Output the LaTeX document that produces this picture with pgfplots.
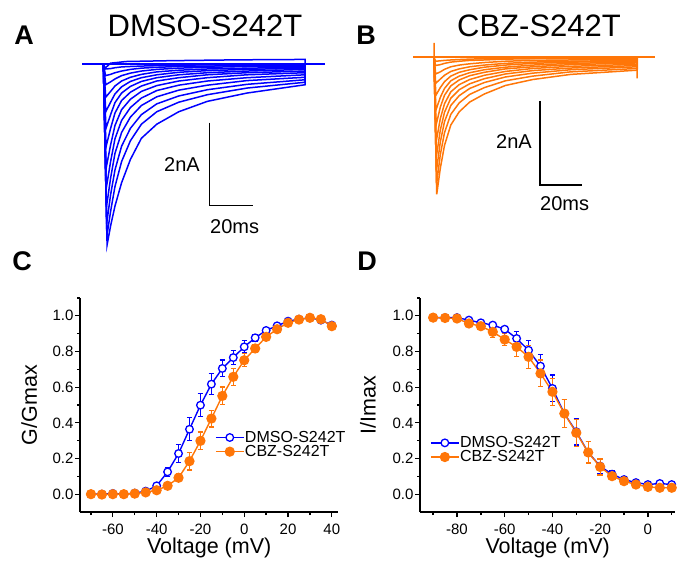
\documentclass[border=0pt]{standalone}
\usepackage{fontspec}
\setmainfont{Liberation Sans}
\usepackage{pgfplots}
\usepackage{pgfplotstable}
\pgfplotsset{compat=1.18}

\definecolor{dmso}{RGB}{0,0,255}
\definecolor{cbz}{RGB}{255,118,8}
\newcommand\fs[1]{\fontsize{#1}{#1}\selectfont}

% activation (G/Gmax): voltage, mean, sem
\pgfplotstableread{
v    m     e
-70  0.000 0.005
-65  0.000 0.005
-60  0.004 0.005
-55  0.000 0.005
-50  0.006 0.005
-45  0.017 0.006
-40  0.047 0.010
-35  0.125 0.025
-30  0.228 0.052
-25  0.364 0.065
-20  0.499 0.065
-15  0.617 0.060
-10  0.705 0.047
-5   0.766 0.040
0    0.826 0.035
5    0.877 0.020
10   0.918 0.015
15   0.944 0.012
20   0.970 0.010
25   0.981 0.008
30   0.989 0.008
35   0.976 0.010
40   0.948 0.012
}\actDMSO
\pgfplotstableread{
v    m      e
-70  0.000  0.004
-65  -0.002 0.004
-60  0.000  0.004
-55  0.000  0.004
-50  0.003  0.004
-45  0.010  0.005
-40  0.022  0.008
-35  0.047  0.010
-30  0.092  0.022
-25  0.185  0.050
-20  0.299  0.050
-15  0.424  0.047
-10  0.551  0.050
-5   0.658  0.047
0    0.751  0.037
5    0.817  0.022
10   0.882  0.020
15   0.925  0.015
20   0.961  0.010
25   0.979  0.008
30   0.989  0.008
35   0.981  0.010
40   0.942  0.012
}\actCBZ
% inactivation (I/Imax)
\pgfplotstableread{
v    m     e
-90  0.990 0.008
-85  0.990 0.008
-80  0.990 0.008
-75  0.976 0.010
-70  0.961 0.010
-65  0.948 0.012
-60  0.925 0.015
-55  0.873 0.040
-50  0.807 0.056
-45  0.718 0.065
-40  0.593 0.075
-35  0.452 0.080
-30  0.350 0.075
-25  0.234 0.060
-20  0.157 0.040
-15  0.112 0.020
-10  0.082 0.015
-5   0.065 0.010
0    0.054 0.010
5    0.060 0.010
10   0.054 0.010
}\inaDMSO
\pgfplotstableread{
v    m     e
-90  0.990 0.008
-85  0.988 0.008
-80  0.985 0.008
-75  0.957 0.010
-70  0.942 0.015
-65  0.910 0.030
-60  0.867 0.035
-55  0.826 0.055
-50  0.770 0.065
-45  0.677 0.075
-40  0.574 0.075
-35  0.452 0.080
-30  0.344 0.075
-25  0.234 0.060
-20  0.153 0.045
-15  0.101 0.020
-10  0.073 0.015
-5   0.054 0.010
0    0.041 0.010
5    0.036 0.010
10   0.036 0.010
}\inaCBZ

\pgfplotsset{
  ivplot/.style={
    scale only axis, height=214pt, ymin=-0.1, ymax=1.1,
    axis lines=left, axis line style={-, line width=1.4pt},
    tick align=outside, major tick length=5pt, minor tick length=3pt,
    tick style={line width=1.3pt, black},
    ytick={0,0.2,0.4,0.6,0.8,1.0}, minor ytick={0.1,0.3,0.5,0.7,0.9,1.1},
    ticklabel style={font=\fs{15}},
    xticklabel style={yshift=-3pt},
    yticklabel style={xshift=2pt, /pgf/number format/.cd, fixed, fixed zerofill, precision=1},
    /pgf/number format/assume math mode=true,
    label style={font=\fs{21.5}},
    xlabel style={at={(axis description cs:0.5,0)}, anchor=base, yshift=-41pt},
    legend style={draw=none, fill=none, anchor=north west, font=\fs{16},
      row sep=0.5pt, inner sep=0pt, nodes={inner sep=0.5pt}},
    legend cell align=left,
    legend image code/.code={\draw[mark repeat=2,mark phase=2,##1]
      plot coordinates {(0pt,0pt)(14pt,0pt)(28pt,0pt)};},
    clip=false,
  },
  dm/.style={dmso, line width=1.4pt, mark=*, mark size=3.8pt,
    mark options={fill=white, draw=dmso, line width=1.3pt},
    error bars/y dir=both, error bars/y explicit,
    error bars/error bar style={line width=1.3pt},
    error bars/error mark options={rotate=90, mark size=2.7pt, line width=1.3pt}},
  cb/.style={cbz, line width=1.4pt, mark=*, mark size=4.4pt,
    mark options={fill=cbz, draw=cbz},
    error bars/y dir=both, error bars/y explicit,
    error bars/error bar style={line width=1.3pt},
    error bars/error mark options={rotate=90, mark size=2.7pt, line width=1.3pt}},
  trA/.style={dmso, line width=1.5pt},
  trB/.style={cbz, line width=1.5pt},
}

\begin{document}
\begin{tikzpicture}[x=1pt, y=1pt]
\path[use as bounding box] (0,0) rectangle (682,563);

% ---------- A: DMSO traces ----------
\begin{axis}[at={(82pt,308.1pt)}, anchor=south west, scale only axis,
  width=244.2pt, height=207.5pt, xmin=0, xmax=111, ymin=-4.6, ymax=0.4,
  hide axis, clip=false]
\addplot[trA] coordinates {(0,0)(110.5,0)};
\addplot[trA] coordinates {(9.7,0)(11.4,-4.36)(13,-3.9)(15,-3.42)(18,-2.86)(22,-2.30)(27,-1.79)(34,-1.45)(44,-1.15)(57,-0.90)(75,-0.70)(101.4,-0.50)(101.4,0)};
\addplot[trA] coordinates {(9.7,0)(11.3,-4.15)(13,-3.55)(15,-2.95)(18,-2.35)(22,-1.85)(27,-1.45)(34,-1.15)(44,-0.92)(57,-0.74)(75,-0.58)(101.4,-0.44)(101.4,0)};
\addplot[trA] coordinates {(9.7,0)(11.2,-3.85)(13,-3.15)(15,-2.55)(18,-1.98)(22,-1.55)(27,-1.22)(34,-0.96)(44,-0.77)(57,-0.62)(75,-0.49)(101.4,-0.38)(101.4,0)};
\addplot[trA] coordinates {(9.7,0)(11.1,-3.45)(13,-2.75)(15,-2.15)(18,-1.65)(22,-1.28)(27,-1.00)(34,-0.79)(44,-0.63)(57,-0.51)(75,-0.40)(101.4,-0.32)(101.4,0)};
\addplot[trA] coordinates {(9.7,0)(11.0,-3.0)(13,-2.35)(15,-1.80)(18,-1.36)(22,-1.05)(27,-0.82)(34,-0.64)(44,-0.51)(57,-0.41)(75,-0.33)(101.4,-0.26)(101.4,0)};
\addplot[trA] coordinates {(9.7,0)(11.0,-2.5)(13,-1.95)(15,-1.48)(18,-1.10)(22,-0.85)(27,-0.66)(34,-0.52)(44,-0.41)(57,-0.33)(75,-0.26)(101.4,-0.21)(101.4,0)};
\addplot[trA] coordinates {(9.7,0)(10.9,-2.0)(13,-1.55)(15,-1.18)(18,-0.88)(22,-0.68)(27,-0.53)(34,-0.41)(44,-0.33)(57,-0.26)(75,-0.21)(101.4,-0.17)(101.4,0)};
\addplot[trA] coordinates {(9.7,0)(10.9,-1.55)(13,-1.22)(15,-0.93)(18,-0.70)(22,-0.54)(27,-0.42)(34,-0.33)(44,-0.26)(57,-0.21)(75,-0.17)(101.4,-0.13)(101.4,0)};
\addplot[trA] coordinates {(9.7,0)(10.8,-1.15)(13,-0.92)(15,-0.72)(18,-0.55)(22,-0.42)(27,-0.33)(34,-0.26)(44,-0.20)(57,-0.16)(75,-0.13)(101.4,-0.10)(101.4,0)};
\addplot[trA] coordinates {(9.7,0)(10.8,-0.80)(13,-0.66)(15,-0.53)(18,-0.41)(22,-0.32)(27,-0.25)(34,-0.19)(44,-0.15)(57,-0.12)(75,-0.10)(101.4,-0.08)(101.4,0)};
\addplot[trA] coordinates {(9.7,0)(10.8,-0.50)(13,-0.43)(15,-0.36)(18,-0.28)(22,-0.22)(27,-0.17)(34,-0.13)(44,-0.10)(57,-0.08)(75,-0.06)(101.4,-0.05)(101.4,0)};
\addplot[trA] coordinates {(9.7,0)(10.7,-0.28)(13,-0.25)(15,-0.21)(18,-0.17)(22,-0.13)(27,-0.10)(34,-0.08)(44,-0.06)(57,-0.05)(75,-0.04)(101.4,-0.03)(101.4,0)};
\addplot[trA] coordinates {(9.7,0)(10.7,-0.12)(13,-0.11)(15,-0.09)(18,-0.07)(22,-0.06)(27,-0.05)(34,-0.04)(44,-0.03)(57,-0.02)(75,-0.02)(101.4,-0.01)(101.4,0)};
\addplot[trA] coordinates {(9.7,0)(10.5,-0.10)(13,0.02)(20,0.06)(40,0.08)(70,0.10)(101.4,0.11)(101.4,0)};
% scale bar
\addplot[black, line width=1.2pt] coordinates {(57.9,-1.414)(57.9,-3.414)(77.9,-3.414)};
\end{axis}

% ---------- B: CBZ traces ----------
\begin{axis}[at={(413pt,357.25pt)}, anchor=south west, scale only axis,
  width=243.6pt, height=170pt, xmin=0, xmax=116, ymin=-3.5, ymax=0.5,
  hide axis, clip=false]
\addplot[trB] coordinates {(0,0)(115.2,0)};
\addplot[trB] coordinates {(10,0)(10,0.33)(10.1,0)};
\addplot[trB] coordinates {(106.7,0)(106.7,-0.5)(106.9,0)};
\addplot[trB] coordinates {(10,0)(11.3,-3.23)(13,-2.62)(15,-2.08)(18,-1.60)(22,-1.29)(27,-1.06)(34,-0.87)(44,-0.67)(57,-0.53)(75,-0.41)(106.7,-0.31)(106.7,0)};
\addplot[trB] coordinates {(10,0)(11.2,-3.00)(13,-2.30)(15,-1.78)(18,-1.35)(22,-1.08)(27,-0.88)(34,-0.72)(44,-0.56)(57,-0.45)(75,-0.35)(106.7,-0.27)(106.7,0)};
\addplot[trB] coordinates {(10,0)(11.1,-2.70)(13,-2.00)(15,-1.52)(18,-1.14)(22,-0.91)(27,-0.74)(34,-0.60)(44,-0.47)(57,-0.38)(75,-0.30)(106.7,-0.23)(106.7,0)};
\addplot[trB] coordinates {(10,0)(11.1,-2.35)(13,-1.72)(15,-1.30)(18,-0.97)(22,-0.77)(27,-0.63)(34,-0.51)(44,-0.40)(57,-0.32)(75,-0.26)(106.7,-0.20)(106.7,0)};
\addplot[trB] coordinates {(10,0)(11.0,-2.00)(13,-1.45)(15,-1.10)(18,-0.82)(22,-0.65)(27,-0.53)(34,-0.43)(44,-0.34)(57,-0.27)(75,-0.22)(106.7,-0.17)(106.7,0)};
\addplot[trB] coordinates {(10,0)(11.0,-1.60)(13,-1.18)(15,-0.90)(18,-0.68)(22,-0.54)(27,-0.44)(34,-0.36)(44,-0.28)(57,-0.23)(75,-0.18)(106.7,-0.14)(106.7,0)};
\addplot[trB] coordinates {(10,0)(10.9,-1.25)(13,-0.95)(15,-0.74)(18,-0.56)(22,-0.45)(27,-0.37)(34,-0.30)(44,-0.24)(57,-0.19)(75,-0.15)(106.7,-0.12)(106.7,0)};
\addplot[trB] coordinates {(10,0)(10.9,-0.90)(13,-0.72)(15,-0.58)(18,-0.45)(22,-0.36)(27,-0.30)(34,-0.24)(44,-0.19)(57,-0.15)(75,-0.12)(106.7,-0.10)(106.7,0)};
\addplot[trB] coordinates {(10,0)(10.8,-0.62)(13,-0.52)(15,-0.43)(18,-0.34)(22,-0.28)(27,-0.23)(34,-0.19)(44,-0.15)(57,-0.12)(75,-0.10)(106.7,-0.08)(106.7,0)};
\addplot[trB] coordinates {(10,0)(10.8,-0.40)(13,-0.35)(15,-0.29)(18,-0.23)(22,-0.19)(27,-0.16)(34,-0.13)(44,-0.10)(57,-0.08)(75,-0.07)(106.7,-0.05)(106.7,0)};
\addplot[trB] coordinates {(10,0)(10.7,-0.20)(13,-0.18)(15,-0.15)(18,-0.12)(22,-0.10)(27,-0.08)(34,-0.07)(44,-0.05)(57,-0.04)(75,-0.04)(106.7,-0.03)(106.7,0)};
\addplot[trB] coordinates {(10,0)(10.7,-0.10)(13,-0.09)(15,-0.08)(18,-0.07)(22,-0.06)(27,-0.05)(34,-0.04)(44,-0.03)(57,-0.03)(75,-0.02)(106.7,-0.02)(106.7,0)};
% scale bar
\addplot[black, line width=1.2pt] coordinates {(60.5,-1.035)(60.5,-3.01)(80.5,-3.01)};
\end{axis}

% ---------- C: activation ----------
\begin{axis}[ivplot, at={(80pt,51pt)}, anchor=south west,
  width=258.4pt, xmin=-75, xmax=43,
  xtick={-60,-40,-20,0,20,40}, minor xtick={-70,-50,-30,-10,10,30},
  xlabel={Voltage (mV)}, ylabel={G/Gmax},
  ylabel style={at={(axis description cs:-0.197,0.5)}, anchor=center},
  legend style={at={(axis description cs:0.522,0.381)}}]
\addplot[dm] table[x=v, y=m, y error=e] {\actDMSO};
\addlegendentry{DMSO-S242T}
\addplot[cb] table[x=v, y=m, y error=e] {\actCBZ};
\addlegendentry{CBZ-S242T}
\end{axis}

% ---------- D: inactivation ----------
\begin{axis}[ivplot, at={(420pt,51pt)}, anchor=south west,
  width=255.3pt, xmin=-95.5, xmax=11.5,
  xtick={-80,-60,-40,-20,0}, minor xtick={-90,-70,-50,-30,-10,10},
  xlabel={Voltage (mV)}, ylabel={I/Imax},
  ylabel style={at={(axis description cs:-0.204,0.5)}, anchor=center},
  legend style={at={(axis description cs:0.039,0.356)}}]
\addplot[dm] table[x=v, y=m, y error=e] {\inaDMSO};
\addlegendentry{DMSO-S242T}
\addplot[cb] table[x=v, y=m, y error=e] {\inaCBZ};
\addlegendentry{CBZ-S242T}
\end{axis}

% ---------- text ----------
\node[anchor=base, font=\fs{31}] at (205,563-37) {DMSO-S242T};
\node[anchor=base, font=\fs{31}] at (539,563-37) {CBZ-S242T};
\node[anchor=base, font=\bfseries\fs{27}] at (24,563-45) {A};
\node[anchor=base, font=\bfseries\fs{27}] at (366,563-45) {B};
\node[anchor=base, font=\bfseries\fs{27}] at (22,563-270) {C};
\node[anchor=base, font=\bfseries\fs{27}] at (367,563-270) {D};
\node[anchor=base east, font=\fs{20}, inner sep=0pt] at (200,563-172) {2nA};
\node[anchor=base west, font=\fs{20}, inner sep=0pt] at (210,563-233) {20ms};
\node[anchor=base east, font=\fs{20}, inner sep=0pt] at (532,563-148.3) {2nA};
\node[anchor=base west, font=\fs{20}, inner sep=0pt] at (540,563-210.7) {20ms};
\end{tikzpicture}
\end{document}
